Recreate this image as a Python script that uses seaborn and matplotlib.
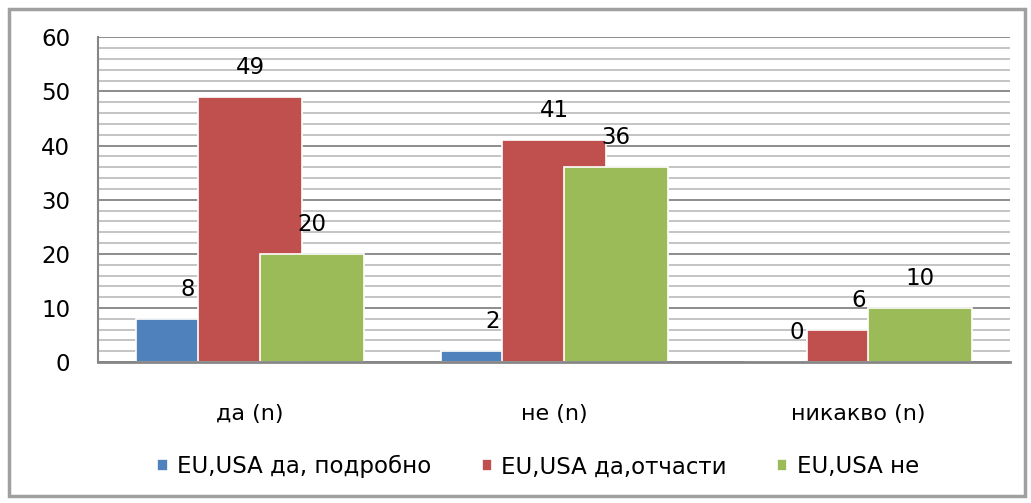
import matplotlib
matplotlib.use("Agg")
import matplotlib.pyplot as plt
import seaborn as sns
import pandas as pd
from matplotlib.patches import Rectangle
from matplotlib.ticker import MultipleLocator

# Данни от графиката
categories = ['да (n)', 'не (n)', 'никакво (n)']
series_names = ['EU,USA да, подробно', 'EU,USA да,отчасти', 'EU,USA не']
detailed = [8, 2, 0]
partial = [49, 41, 6]
no_answer = [20, 36, 10]
colors = ['#4f81bd', '#c0504d', '#9bbb59']

rows = []
for name, vals in zip(series_names, [detailed, partial, no_answer]):
    for cat, v in zip(categories, vals):
        rows.append({'cat': cat, 'series': name, 'value': v})
df = pd.DataFrame(rows)

sns.set_theme(style='white')
plt.rcParams['font.family'] = ['DejaVu Sans']
plt.rcParams['text.color'] = 'black'
plt.rcParams['xtick.color'] = 'black'
plt.rcParams['ytick.color'] = 'black'

fig = plt.figure(figsize=(10.31, 5.03), dpi=100)
ax = fig.add_axes([0.095, 0.28, 0.885, 0.646])

sns.barplot(data=df, x='cat', y='value', hue='series', palette=colors,
            width=0.61, ax=ax, edgecolor='white', linewidth=1.2,
            saturation=1, errorbar=None)

# колоните се застъпват като в Excel
for p in ax.patches:
    c = p.get_x() + p.get_width() / 2
    p.set_width(0.34)
    p.set_x(c - 0.17)

for cont, vals in zip(ax.containers, [detailed, partial, no_answer]):
    ax.bar_label(cont, labels=[str(v) for v in vals], padding=13,
                 fontsize=16.5, color='black')

ax.set_ylim(0, 60)
ax.set_xlim(-0.5, 2.5)
ax.yaxis.set_major_locator(MultipleLocator(10))
ax.yaxis.set_minor_locator(MultipleLocator(2))
ax.set_axisbelow(True)
ax.yaxis.grid(True, which='major', color='#8c8c8c', lw=1.4)
ax.yaxis.grid(True, which='minor', color='#c4c4c4', lw=1.4)
ax.tick_params(axis='y', which='both', length=0, pad=20, labelsize=16.5)
ax.tick_params(axis='x', length=0, pad=30, labelsize=16)
ax.set_xlabel('')
ax.set_ylabel('')

for s in ['top', 'right']:
    ax.spines[s].set_visible(False)
ax.spines['left'].set_color('#868686')
ax.spines['left'].set_linewidth(1.5)
ax.spines['bottom'].set_color('#868686')
ax.spines['bottom'].set_linewidth(2)

handles, labels = ax.get_legend_handles_labels()
ax.get_legend().remove()
fig.legend(handles, labels, loc='center', bbox_to_anchor=(0.522, 0.072),
           ncol=3, frameon=False, fontsize=16.5, handlelength=0.45,
           handleheight=0.45, handletextpad=0.4, columnspacing=2.2)

fig.patches.append(Rectangle((0.009, 0.014), 0.985, 0.968,
                             transform=fig.transFigure, fill=False,
                             edgecolor='#a0a0a0', lw=2.5))

fig.savefig('out.png', dpi=100)
